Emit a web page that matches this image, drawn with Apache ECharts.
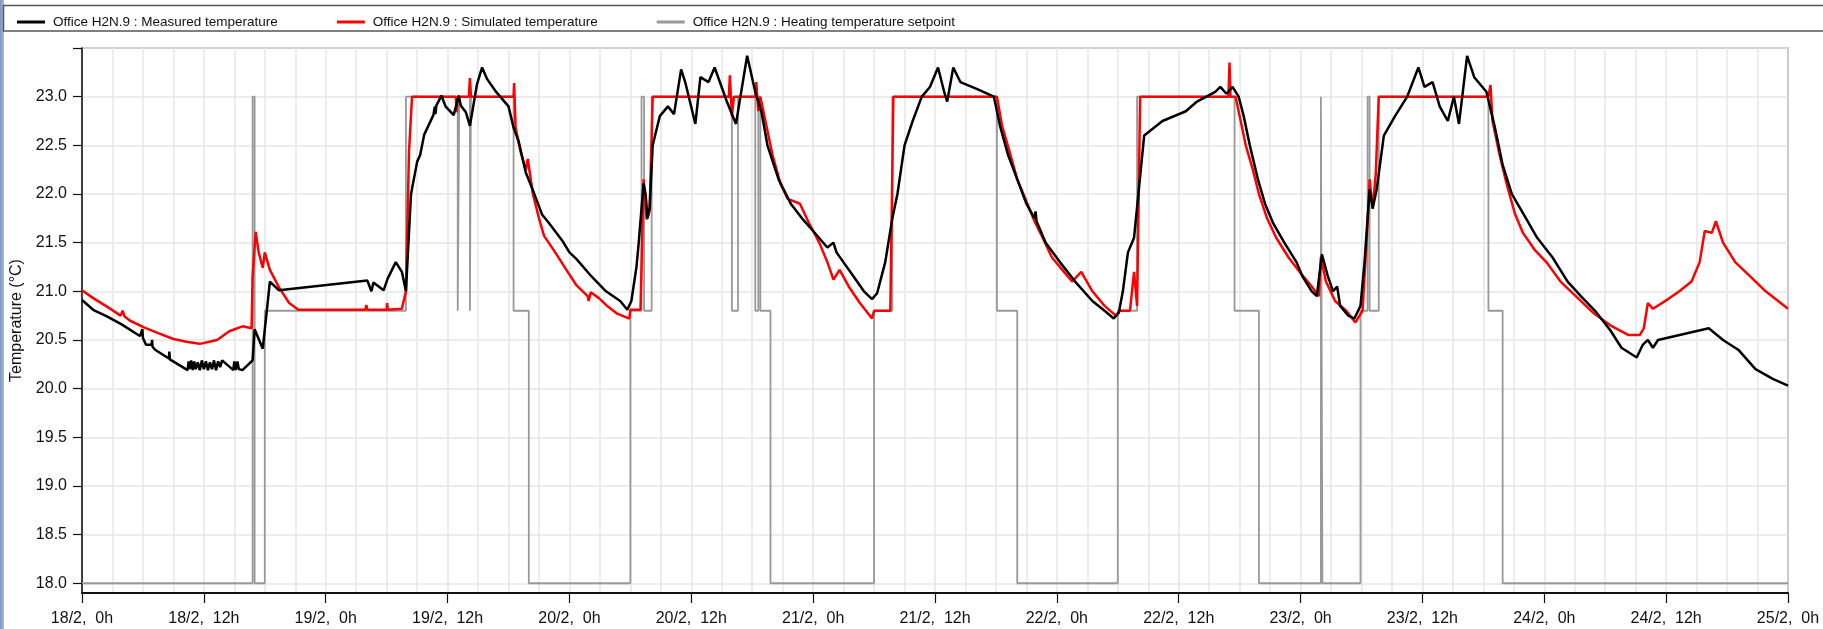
<!DOCTYPE html>
<html>
<head>
<meta charset="utf-8">
<script src="https://cdn.jsdelivr.net/npm/echarts@6/dist/echarts.min.js"></script>
<style>
  html, body { margin: 0; padding: 0; background: #fff; }
  #strip { position: absolute; left: 0; top: 0; width: 4px; height: 629px;
    background: linear-gradient(to right, #7a96c0, #a9bcd8); }
  #c_chart { width: 1823px; height: 629px; }
</style>
</head>
<body>
<div id="strip"></div>
<div id="c_chart"></div>
<script>
// hours since 18/2 0h
const xTicks = [0, 12, 24, 36, 48, 60, 72, 84, 96, 108, 120, 132, 144, 156, 168]
const yTicks = [18, 18.5, 19, 19.5, 20, 20.5, 21, 21.5, 22, 22.5, 23, 23.5]
const yLabels = [18, 18.5, 19, 19.5, 20, 20.5, 21, 21.5, 22, 22.5, 23]

const measured = [
  [0, 20.91], [1.1, 20.81], [2.5, 20.74], [3.9, 20.66], [5.7, 20.54], [5.95, 20.61], [6.0, 20.52], [6.3, 20.45],
  [6.85, 20.45], [6.9, 20.5], [6.95, 20.43], [7.2, 20.4], [8.55, 20.31], [8.6, 20.38], [8.65, 20.3],
  [10.4, 20.19], [10.5, 20.28], [10.6, 20.2], [10.75, 20.29], [10.9, 20.19], [11.05, 20.28], [11.2, 20.2],
  [11.4, 20.27], [11.6, 20.19], [11.8, 20.29], [12.0, 20.2], [12.2, 20.28], [12.4, 20.19], [12.6, 20.27],
  [12.8, 20.2], [13.0, 20.29], [13.2, 20.19], [13.4, 20.28], [13.6, 20.22], [13.8, 20.29], [14.9, 20.19],
  [15.0, 20.28], [15.15, 20.19], [15.3, 20.28], [15.45, 20.2], [15.8, 20.19], [16.8, 20.29], [17.0, 20.61],
  [17.8, 20.41], [18.3, 20.9], [18.5, 21.1], [19.4, 21.01], [28.1, 21.11], [28.5, 21.0], [28.7, 21.09],
  [29.7, 21.01], [30.1, 21.13], [30.9, 21.3], [31.5, 21.2], [31.9, 21.0], [32.4, 22.0], [33.0, 22.33],
  [33.3, 22.4], [33.7, 22.61], [34.6, 22.81], [34.75, 22.9], [34.8, 22.82], [34.9, 22.91], [35.4, 23.01],
  [35.8, 22.9], [36.6, 22.81], [37.1, 23.01], [37.3, 22.91], [37.8, 22.84], [38.2, 22.7], [38.9, 23.13],
  [39.4, 23.3], [39.9, 23.18], [40.7, 23.06], [42.0, 22.9], [42.5, 22.68], [43.0, 22.54], [43.7, 22.22],
  [44.4, 22.04], [45.3, 21.79], [46.0, 21.7], [47.3, 21.52], [48.0, 21.4], [48.7, 21.33], [50.2, 21.15],
  [51.6, 21.0], [53.0, 20.9], [53.7, 20.81], [54.1, 20.9], [54.6, 21.25], [54.8, 21.47], [55.3, 22.11],
  [55.5, 22.0], [55.7, 21.75], [55.9, 21.86], [56.2, 22.5], [56.9, 22.8], [57.7, 22.9], [58.3, 22.82],
  [59.0, 23.28], [59.4, 23.15], [60.4, 22.72], [60.9, 23.2], [61.7, 23.15], [62.3, 23.3], [63.5, 22.95],
  [64.4, 22.72], [65.5, 23.42], [66.3, 23.05], [66.9, 22.85], [67.5, 22.5], [68.6, 22.15], [69.8, 21.9],
  [70.9, 21.75], [72.0, 21.62], [73.4, 21.45], [74.0, 21.5], [74.3, 21.4], [76.0, 21.15], [77.0, 21.0],
  [77.8, 20.92], [78.3, 20.98], [79.1, 21.3], [79.8, 21.75], [80.3, 22.0], [81.0, 22.5], [81.8, 22.75],
  [82.7, 23.0], [83.5, 23.1], [84.3, 23.3], [84.9, 23.05], [85.2, 22.95], [85.8, 23.3], [86.5, 23.15],
  [88.1, 23.08], [89.8, 23.0], [90.4, 22.7], [91.2, 22.4], [92.1, 22.15], [93.0, 21.9], [93.8, 21.75],
  [93.9, 21.82], [94.0, 21.72], [94.9, 21.5], [96.3, 21.3], [97.8, 21.1], [99.5, 20.9], [100.7, 20.8],
  [101.6, 20.72], [102.1, 20.78], [102.5, 21.0], [103.0, 21.4], [103.6, 21.55], [104.6, 22.6], [106.4, 22.75],
  [108.7, 22.85], [109.8, 22.95], [111.6, 23.05], [112.1, 23.1], [112.7, 23.03], [113.3, 23.1], [113.9, 23.0],
  [114.4, 22.8], [115.0, 22.5], [115.8, 22.15], [116.5, 21.9], [117.3, 21.7], [118.4, 21.5], [119.6, 21.3],
  [120.2, 21.15], [121.1, 21.0], [121.6, 20.95], [122.1, 21.38], [122.7, 21.15], [123.2, 21.0], [123.6, 21.05],
  [123.9, 20.85], [124.7, 20.75], [125.3, 20.72], [125.9, 20.85], [126.3, 21.3], [126.8, 22.05], [127.1, 21.85],
  [127.5, 22.05], [128.2, 22.6], [129.3, 22.8], [130.5, 23.0], [131.6, 23.3], [132.2, 23.1], [133.0, 23.15],
  [133.7, 22.9], [134.5, 22.75], [135.1, 23.0], [135.6, 22.72], [136.4, 23.42], [137.1, 23.2], [138.3, 23.05],
  [139.1, 22.7], [139.9, 22.3], [140.8, 22.0], [142.2, 21.75], [143.3, 21.55], [144.8, 21.35], [146.3, 21.1],
  [147.6, 20.95], [149.0, 20.8], [150.5, 20.6], [151.6, 20.42], [153.1, 20.32], [153.7, 20.45], [154.2, 20.5],
  [154.7, 20.42], [155.2, 20.5], [160.2, 20.62], [161.6, 20.5], [163.1, 20.4], [164.8, 20.2], [166.5, 20.1],
  [168, 20.03]
]

const simulated = [
  [0, 21.01], [1.1, 20.93], [2.5, 20.84], [3.8, 20.75], [4.0, 20.8], [4.2, 20.74], [4.7, 20.7], [6.1, 20.63],
  [7.5, 20.57], [9.0, 20.51], [10.4, 20.48], [11.6, 20.46], [13.3, 20.5], [14.5, 20.59], [15.8, 20.64],
  [16.7, 20.62], [16.8, 21.15], [17.1, 21.61], [17.4, 21.4], [17.8, 21.24], [18.0, 21.4], [18.5, 21.22],
  [19.4, 21.04], [20.4, 20.88], [21.3, 20.81], [27.9, 20.81], [28.0, 20.86], [28.1, 20.81], [30.0, 20.81],
  [30.05, 20.88], [30.1, 20.81], [31.5, 20.82], [31.9, 21.0], [32.2, 22.43], [32.5, 23.0], [36.8, 23.0],
  [36.9, 22.84], [37.0, 23.0], [38.1, 23.0], [38.2, 23.19], [38.3, 23.0], [42.5, 23.0], [42.55, 23.14],
  [42.7, 22.68], [43.2, 22.43], [43.7, 22.25], [43.9, 22.36], [44.4, 22.0], [45.0, 21.75], [45.5, 21.57],
  [46.6, 21.4], [47.7, 21.22], [48.7, 21.06], [49.8, 20.95], [49.9, 20.9], [50.1, 20.99], [50.9, 20.93],
  [51.6, 20.86], [52.7, 20.77], [53.9, 20.72], [54.0, 20.81], [55.0, 20.81], [55.3, 22.15], [55.6, 21.74],
  [55.9, 21.83], [56.2, 23.0], [63.7, 23.0], [63.8, 23.22], [63.9, 23.0], [64.0, 22.8], [64.2, 23.0],
  [66.3, 23.0], [66.4, 23.15], [66.6, 22.85], [66.8, 23.0], [67.0, 22.9], [67.5, 22.65], [68.0, 22.4],
  [68.8, 22.1], [69.5, 21.95], [70.7, 21.9], [71.5, 21.72], [72.6, 21.5], [73.4, 21.3], [74.0, 21.12],
  [74.6, 21.22], [75.5, 21.05], [76.6, 20.88], [77.8, 20.72], [78.0, 20.8], [79.6, 20.8], [79.9, 23.0],
  [90.1, 23.0], [90.6, 22.7], [91.3, 22.45], [92.1, 22.15], [92.9, 21.95], [93.8, 21.72], [94.6, 21.55],
  [95.5, 21.35], [96.7, 21.2], [97.5, 21.1], [98.4, 21.2], [99.5, 21.0], [100.7, 20.85], [101.8, 20.75],
  [102.2, 20.8], [103.2, 20.8], [103.6, 21.2], [103.9, 20.85], [104.2, 23.0], [112.9, 23.0], [113.0, 23.35],
  [113.1, 23.0], [113.6, 23.0], [114.1, 22.75], [114.6, 22.5], [115.3, 22.25], [115.9, 22.0], [116.7, 21.75],
  [117.6, 21.55], [118.8, 21.35], [119.9, 21.2], [121.1, 21.05], [121.8, 20.95], [122.0, 21.35], [122.5, 21.1],
  [123.4, 20.9], [124.5, 20.8], [125.4, 20.68], [126.1, 20.8], [126.6, 21.7], [126.8, 22.15], [127.1, 21.85],
  [127.4, 22.2], [127.7, 23.0], [138.5, 23.0], [138.7, 23.12], [138.9, 22.75], [139.6, 22.4], [140.3, 22.1],
  [141.1, 21.8], [141.9, 21.6], [143.1, 21.42], [144.2, 21.3], [145.6, 21.1], [147.1, 20.95], [148.8, 20.78],
  [150.5, 20.65], [152.3, 20.55], [153.4, 20.55], [153.8, 20.62], [154.2, 20.88], [154.7, 20.82], [156.2, 20.92],
  [157.3, 21.0], [158.5, 21.1], [159.3, 21.3], [159.8, 21.62], [160.5, 21.6], [160.9, 21.72], [161.6, 21.5],
  [162.8, 21.3], [164.3, 21.15], [165.8, 21.0], [168, 20.82]
]

const setpoint = [
  [0, 18], [16.8, 18], [16.8, 23], [17.0, 23], [17.0, 18], [18.0, 18], [18.0, 20.8], [31.9, 20.8], [31.9, 23],
  [37.0, 23], [37.0, 20.8], [37.15, 20.8], [37.15, 23], [38.2, 23], [38.2, 20.8], [38.3, 20.8], [38.3, 23],
  [42.5, 23], [42.5, 20.8], [44.0, 20.8], [44.0, 18], [54.0, 18], [54.0, 20.8], [55.1, 20.8], [55.1, 23],
  [55.35, 23], [55.35, 20.8], [56.1, 20.8], [56.1, 23], [64.0, 23], [64.0, 20.8], [64.6, 20.8], [64.6, 23],
  [66.3, 23], [66.3, 20.8], [66.6, 20.8], [66.6, 23], [66.8, 23], [66.8, 20.8], [67.8, 20.8], [67.8, 18],
  [78.0, 18], [78.0, 20.8], [79.8, 20.8], [79.8, 23], [90.1, 23], [90.1, 20.8], [92.1, 20.8], [92.1, 18],
  [102.0, 18], [102.0, 20.8], [103.9, 20.8], [103.9, 23], [113.5, 23], [113.5, 20.8], [115.9, 20.8],
  [115.9, 18], [122.0, 18], [122.0, 23], [122.15, 23], [122.15, 18], [125.9, 18], [125.9, 20.8],
  [126.6, 20.8], [126.6, 23], [126.8, 23], [126.8, 20.8], [127.7, 20.8], [127.7, 23], [138.5, 23],
  [138.5, 20.8], [139.9, 20.8], [139.9, 18], [168, 18]
]

const names = [
  'Office H2N.9 : Measured temperature',
  'Office H2N.9 : Simulated temperature',
  'Office H2N.9 : Heating temperature setpoint'
]

const font = '"Liberation Sans", Arial, sans-serif'

function hourLabel (h) {
  const day = 18 + Math.floor(h / 24)
  return day + '/2,  ' + (h % 24) + 'h'
}

const chart = echarts.init(document.getElementById('c_chart'), null, { renderer: 'canvas' })
const option = {
  animation: false,
  textStyle: { fontFamily: font },
  graphic: [{
    type: 'rect',
    shape: { x: 3.5, y: 5.5, width: 1830, height: 25.5 },
    style: { fill: 'none', stroke: '#555', lineWidth: 1.5 },
    z: -1
  }],
  legend: {
    left: 12,
    top: 10,
    itemWidth: 28,
    itemHeight: 3,
    itemGap: 59,
    icon: 'rect',
    data: names,
    textStyle: { fontSize: 13.5, color: '#111', fontFamily: font, padding: [0, 0, 0, 3] }
  },
  grid: {
    left: 82,
    right: 35,
    top: 48,
    bottom: 36,
    show: true,
    borderColor: '#222',
    borderWidth: 1.2
  },
  xAxis: {
    type: 'value',
    min: 0,
    max: 168,
    interval: 12,
    axisLine: { show: true, lineStyle: { color: '#111', width: 2 } },
    axisTick: { show: true, length: 10, lineStyle: { color: '#111', width: 1.2 } },
    axisLabel: {
      color: '#111',
      fontSize: 16,
      margin: 18,
      fontFamily: font,
      showMinLabel: true,
      showMaxLabel: true,
      formatter: hourLabel
    },
    splitLine: { show: true, lineStyle: { color: '#e6e6e6', width: 1.5 } },
    minorTick: { show: false, splitNumber: 4 },
    minorSplitLine: { show: true, lineStyle: { color: '#e6e6e6', width: 1.5 } }
  },
  yAxis: {
    type: 'value',
    min: 17.9,
    max: 23.5,
    name: 'Temperature (°C)',
    nameLocation: 'middle',
    nameGap: 54,
    nameTextStyle: { fontSize: 16, color: '#111', fontFamily: font },
    axisLine: { show: true, lineStyle: { color: '#111', width: 1.5 } },
    axisTick: { show: true, length: 9, customValues: yTicks, lineStyle: { color: '#111', width: 1.2 } },
    axisLabel: {
      color: '#111',
      fontSize: 16,
      margin: 15,
      fontFamily: font,
      customValues: yLabels,
      formatter: (v) => v.toFixed(1)
    },
    splitLine: { show: true, lineStyle: { color: '#e6e6e6', width: 1.5 } }
  },
  series: [{
    name: names[0],
    type: 'line',
    data: measured,
    showSymbol: false,
    z: 4,
    itemStyle: { color: '#000' },
    lineStyle: { color: '#000', width: 2.5 }
  }, {
    name: names[1],
    type: 'line',
    data: simulated,
    showSymbol: false,
    z: 3,
    itemStyle: { color: '#ff0000' },
    lineStyle: { color: '#ff0000', width: 2.5 }
  }, {
    name: names[2],
    type: 'line',
    data: setpoint,
    showSymbol: false,
    z: 2,
    itemStyle: { color: '#999' },
    lineStyle: { color: '#999', width: 1.8 }
  }]
}
chart.setOption(option)
</script>
</body>
</html>
